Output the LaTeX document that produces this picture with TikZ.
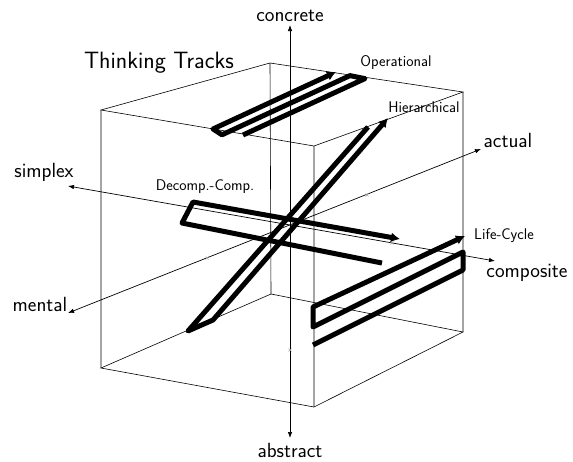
\documentclass[tikz,border=0pt]{standalone}
\usetikzlibrary{arrows.meta}
\begin{document}
\begin{tikzpicture}[x=1pt,y=-1pt,
  edge/.style={line width=0.6pt},
  axis/.style={line width=0.7pt,{Latex[length=6pt,width=4.5pt]}-{Latex[length=6pt,width=4.5pt]}},
  track/.style={line width=5pt,line join=round,-{Latex[length=9pt,width=10pt]}},
  axlabel/.style={font=\sffamily\fontsize{20.5}{20.5}\selectfont,inner sep=0pt,anchor=base},
  titlelabel/.style={font=\sffamily\fontsize{23.6}{23.6}\selectfont,inner sep=0pt,anchor=base},
  tlabel/.style={font=\sffamily\fontsize{15.5}{15.5}\selectfont,inner sep=0pt,anchor=base},
  tickmark/.style={gray!70,line width=0.4pt}]
\useasboundingbox (0,0) rectangle (573,461);
% cube vertices
\coordinate (A) at (101,110);
\coordinate (B) at (270,63);
\coordinate (C) at (463,92);
\coordinate (D) at (314,146);
\coordinate (A2) at (101,368);
\coordinate (B2) at (271,294);
\coordinate (C2) at (463,332);
\coordinate (D2) at (314,407);
\draw[edge] (A)--(B)--(C)--(D)--cycle;
\draw[edge] (A2)--(B2)--(C2)--(D2)--cycle;
\draw[edge] (A)--(A2) (B)--(B2) (C)--(C2) (D)--(D2);
% axes
\coordinate (top) at (290,25);
\coordinate (bot) at (290,438);
\coordinate (simp) at (68,186);
\coordinate (comp) at (495,261);
\coordinate (ment) at (68,313);
\coordinate (act) at (481,149);
\draw[axis] (bot)--(top);
\draw[axis] (simp)--(comp);
\draw[axis] (ment)--(act);
% tick marks
\foreach \p in {(367,195),(207,258),(392,243),(290,350)}{
  \draw[tickmark] \p ++(-1.5,-1.5) -- ++(3,3) \p ++(-1.5,1.5) -- ++(3,-3);
}
% labels
\node[axlabel] (lconc) at (290,21) {concrete};
\node[axlabel] (labs) at (290,457) {abstract};
\node[axlabel] (lsimp) at (44,177) {simplex};
\node[axlabel] (lcomp) at (527,277) {composite};
\node[axlabel] (lment) at (40,311) {mental};
\node[axlabel] (lact) at (508,147) {actual};
\node[titlelabel] (ltitle) at (159,68) {Thinking Tracks};
\node[tlabel] (lop) at (396,66) {Operational};
\node[tlabel] (lhier) at (424,112) {Hierarchical};
\node[tlabel] (ldec) at (205,190) {Decomp.-Comp.};
\node[tlabel] (llife) at (504,239) {Life-Cycle};
% tracks
\coordinate (o1) at (243,135);
\coordinate (o2) at (365,78.6);
\coordinate (o3) at (350,75.6);
\coordinate (o4) at (222,134.8);
\coordinate (o5) at (213,129);
\coordinate (o6) at (336,72);
\draw[track] (o1)--(o2)--(o3)--(o4)--(o5)--(o6);
\coordinate (h1) at (368,127);
\coordinate (h2) at (188,331);
\coordinate (h3) at (213,320);
\coordinate (h4) at (388,118);
\draw[track] (h1)--(h2)--(h3)--(h4);
\coordinate (d1) at (382,263);
\coordinate (d2) at (182,223);
\coordinate (d3) at (193,202);
\coordinate (d4) at (400,239);
\draw[track] (d1)--(d2)--(d3)--(d4);
\coordinate (l1) at (313,345);
\coordinate (l2) at (463,270);
\coordinate (l3) at (463,252);
\coordinate (l4) at (313,327);
\coordinate (l5) at (313,307);
\coordinate (l6) at (465,236);
\draw[track] (l1)--(l2)--(l3)--(l4)--(l5)--(l6);
\end{tikzpicture}
\end{document}
